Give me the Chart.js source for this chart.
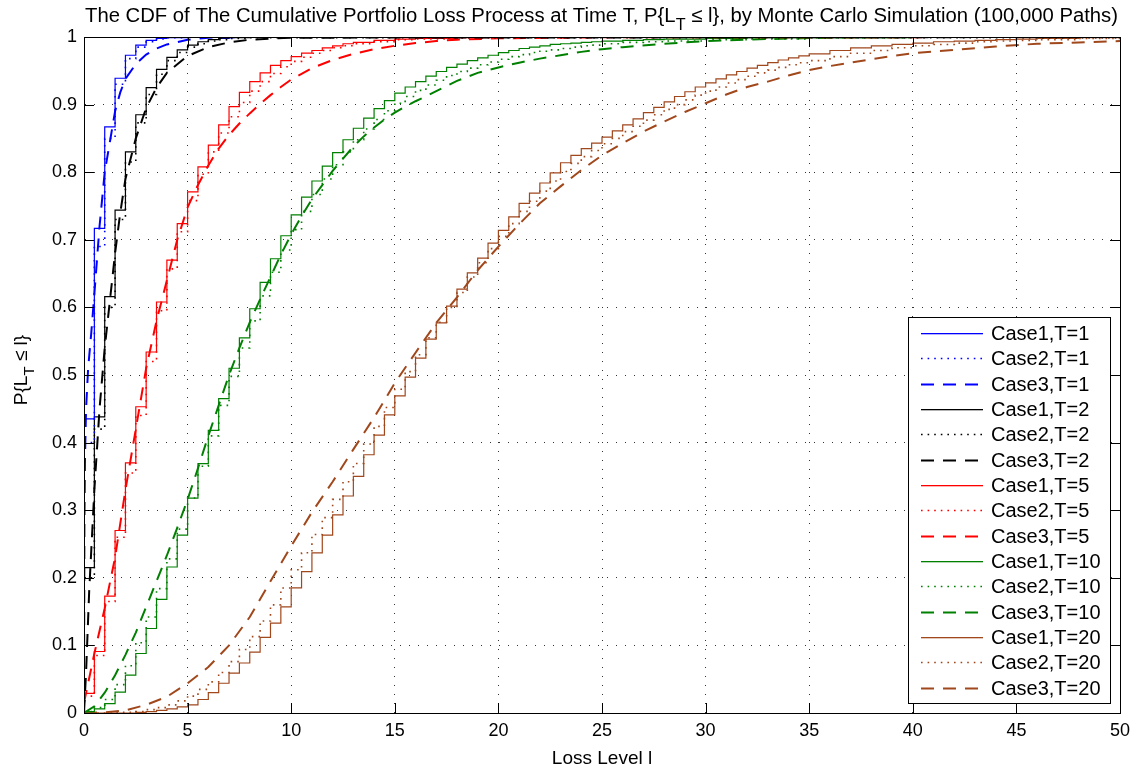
<!DOCTYPE html>
<html>
<head>
<meta charset="utf-8">
<script src="https://cdn.jsdelivr.net/npm/chart.js@4.4.0/dist/chart.umd.min.js"></script>
<style>
    body { margin: 0; background: #fff; }
    #wrap { width: 1138px; height: 771px; }
</style>
</head>
<body>
<div id="wrap"><canvas id="cdf" width="1138" height="771"></canvas></div>
<script>
// loss levels (x) and CDF values (y)
const stepLossT1 = [0, 0.5, 1, 1.5, 2, 2.5, 3, 3.5, 4, 5, 6, 50];
const case1T1 = [0.435, 0.717, 0.867, 0.939, 0.973, 0.988, 0.995, 0.998, 0.999, 1, 1, 1];
const case2T1 = [0.40, 0.69, 0.85, 0.93, 0.968, 0.985, 0.993, 0.997, 0.999, 1, 1, 1];
const smoothLossT1 = [0, 0.02, 0.05, 0.1, 0.2, 0.35, 0.5, 0.75, 1, 1.25, 1.5, 1.75, 2, 2.5, 3, 3.5, 4, 5, 6, 8, 50];
const case3T1 = [0, 0.28, 0.38, 0.45, 0.51, 0.562, 0.62, 0.72, 0.8, 0.845, 0.89, 0.918, 0.938, 0.96, 0.974, 0.983, 0.989, 0.996, 0.999, 1, 1];

const stepLossT2 = [0, 0.5, 1, 1.5, 2, 2.5, 3, 3.5, 4, 4.5, 5, 5.5, 6, 6.5, 7, 8, 50];
const case1T2 = [0.215, 0.438, 0.616, 0.744, 0.83, 0.885, 0.925, 0.952, 0.97, 0.981, 0.988, 0.993, 0.996, 0.998, 0.999, 1, 1];
const case2T2 = [0.2, 0.42, 0.6, 0.73, 0.815, 0.873, 0.915, 0.945, 0.965, 0.977, 0.985, 0.99, 0.994, 0.996, 0.998, 0.999, 1];
const smoothLossT2 = [0, 0.1, 0.25, 0.5, 0.75, 1, 1.25, 1.5, 1.75, 2, 2.5, 3, 3.5, 4, 5, 6, 7, 8, 10, 50];
const case3T2 = [0, 0.06, 0.18, 0.33, 0.45, 0.54, 0.61, 0.68, 0.74, 0.79, 0.85, 0.895, 0.925, 0.947, 0.972, 0.985, 0.992, 0.996, 0.999, 1];

const stepLossT5 = [0, 0.5, 1, 1.5, 2, 2.5, 3, 3.5, 4, 4.5, 5, 5.5, 6, 6.5, 7, 7.5, 8, 8.5, 9, 9.5,
    10, 10.5, 11, 11.5, 12, 12.5, 13, 14, 15, 16, 18, 20, 50];
const case1T5 = [0.029, 0.091, 0.173, 0.27, 0.37, 0.453, 0.534, 0.608, 0.67, 0.724,
    0.771, 0.808, 0.84, 0.87, 0.897, 0.918, 0.934, 0.947, 0.958, 0.965,
    0.971, 0.976, 0.98, 0.984, 0.987, 0.99, 0.992, 0.995, 0.997, 0.998, 0.999, 1, 1];
const case2T5 = [0.025, 0.085, 0.165, 0.26, 0.355, 0.44, 0.52, 0.595, 0.657, 0.712,
    0.758, 0.797, 0.83, 0.858, 0.882, 0.903, 0.92, 0.934, 0.946, 0.956,
    0.964, 0.97, 0.976, 0.98, 0.984, 0.987, 0.99, 0.993, 0.996, 0.997, 0.999, 1, 1];
const smoothLossT5 = [0, 0.5, 1, 1.5, 2, 2.5, 3, 3.5, 4, 4.5, 5, 5.5, 6, 6.5, 7, 7.5, 8, 8.5, 9, 9.5,
    10, 11, 12, 13, 14, 15, 16, 17, 18, 20, 25, 50];
const case3T5 = [0.015, 0.088, 0.155, 0.23, 0.33, 0.42, 0.51, 0.58, 0.64, 0.70,
    0.748, 0.781, 0.81, 0.835, 0.855, 0.872, 0.887, 0.901, 0.914, 0.926,
    0.937, 0.954, 0.966, 0.975, 0.982, 0.987, 0.991, 0.994, 0.996, 0.998, 0.9995, 1];

const stepLossT10 = [0, 0.5, 1, 1.5, 2, 2.5, 3, 3.5, 4, 4.5, 5, 5.5, 6, 6.5, 7, 7.5, 8, 8.5, 9, 9.5,
    10, 10.5, 11, 11.5, 12, 12.5, 13, 13.5, 14, 14.5, 15, 15.5, 16, 16.5, 17, 17.5, 18, 18.5, 19, 19.5,
    20, 20.5, 21, 21.5, 22, 22.5, 23, 23.5, 24, 24.5, 25, 26, 27, 28, 30, 32, 35, 40, 50];
const case1T10 = [0.002, 0.006, 0.014, 0.031, 0.056, 0.088, 0.125, 0.168, 0.216, 0.263,
    0.318, 0.369, 0.418, 0.465, 0.51, 0.555, 0.598, 0.637, 0.672, 0.706,
    0.737, 0.763, 0.787, 0.809, 0.829, 0.848, 0.865, 0.88, 0.894, 0.906,
    0.917, 0.926, 0.934, 0.942, 0.949, 0.955, 0.96, 0.965, 0.969, 0.973,
    0.977, 0.98, 0.983, 0.985, 0.987, 0.989, 0.99, 0.991, 0.992, 0.993,
    0.994, 0.995, 0.996, 0.997, 0.998, 0.999, 0.999, 1, 1];
const case2T10 = [0.002, 0.008, 0.02, 0.042, 0.07, 0.104, 0.142, 0.184, 0.228, 0.272,
    0.318, 0.365, 0.41, 0.455, 0.498, 0.54, 0.58, 0.617, 0.652, 0.685,
    0.715, 0.742, 0.767, 0.79, 0.811, 0.83, 0.848, 0.864, 0.878, 0.891,
    0.902, 0.912, 0.921, 0.929, 0.936, 0.943, 0.949, 0.954, 0.959, 0.963,
    0.967, 0.971, 0.974, 0.977, 0.979, 0.981, 0.983, 0.985, 0.987, 0.988,
    0.99, 0.992, 0.993, 0.994, 0.996, 0.997, 0.999, 1, 1];
const smoothLossT10 = [0, 0.5, 1, 1.5, 2, 2.5, 3, 3.5, 4, 4.5, 5, 5.5, 6, 6.5, 7, 7.5, 8, 8.5, 9, 9.5,
    10, 10.5, 11, 11.5, 12, 12.5, 13, 13.5, 14, 14.5, 15, 15.5, 16, 16.5, 17,
    18, 19, 20, 21, 22, 23, 24, 25, 26, 28, 30, 33, 36, 40, 50];
const case3T10 = [0, 0.01, 0.03, 0.056, 0.086, 0.119, 0.157, 0.195, 0.233, 0.274,
    0.316, 0.362, 0.41, 0.455, 0.5, 0.54, 0.578, 0.612, 0.645, 0.678,
    0.708, 0.735, 0.76, 0.781, 0.802, 0.82, 0.838, 0.853, 0.866, 0.878,
    0.888, 0.897, 0.905, 0.912, 0.92, 0.935, 0.947, 0.955, 0.962, 0.968,
    0.973, 0.978, 0.982, 0.985, 0.99, 0.994, 0.997, 0.999, 1, 1];

const stepLossT20 = [0, 0.5, 1, 1.5, 2, 2.5, 3, 3.5, 4, 4.5, 5, 5.5, 6, 6.5, 7, 7.5, 8, 8.5, 9, 9.5,
    10, 10.5, 11, 11.5, 12, 12.5, 13, 13.5, 14, 14.5, 15, 15.5, 16, 16.5, 17, 17.5, 18, 18.5, 19, 19.5,
    20, 20.5, 21, 21.5, 22, 22.5, 23, 23.5, 24, 24.5, 25, 25.5, 26, 26.5, 27, 27.5, 28, 28.5, 29, 29.5,
    30, 30.5, 31, 31.5, 32, 32.5, 33, 33.5, 34, 34.5, 35,
    36, 37, 38, 39, 40, 41, 42, 43, 44, 45, 46, 48, 50];
const case1T20 = [0, 0, 0, 0, 0, 0.001, 0.002, 0.004, 0.006, 0.009,
    0.012, 0.02, 0.03, 0.044, 0.059, 0.074, 0.09, 0.112, 0.133, 0.157,
    0.185, 0.209, 0.237, 0.263, 0.293, 0.321, 0.35, 0.382, 0.411, 0.441,
    0.469, 0.497, 0.525, 0.553, 0.577, 0.602, 0.627, 0.651, 0.673, 0.695,
    0.714, 0.734, 0.754, 0.769, 0.784, 0.799, 0.814, 0.825, 0.835, 0.843,
    0.852, 0.861, 0.87, 0.879, 0.888, 0.896, 0.904, 0.912, 0.919, 0.926,
    0.932, 0.938, 0.944, 0.949, 0.954, 0.958, 0.962, 0.966, 0.969, 0.972,
    0.975,
    0.98, 0.984, 0.987, 0.989, 0.991, 0.993, 0.994, 0.995, 0.996, 0.997, 0.998, 0.999, 0.999];
const case2T20 = [0, 0, 0, 0.001, 0.001, 0.002, 0.005, 0.008, 0.012, 0.018,
    0.025, 0.035, 0.046, 0.06, 0.076, 0.094, 0.113, 0.136, 0.16, 0.185,
    0.212, 0.237, 0.264, 0.289, 0.316, 0.342, 0.369, 0.398, 0.424, 0.452,
    0.479, 0.505, 0.53, 0.555, 0.578, 0.6, 0.622, 0.645, 0.666, 0.687,
    0.705, 0.724, 0.742, 0.757, 0.772, 0.787, 0.801, 0.813, 0.823, 0.832,
    0.842, 0.85, 0.86, 0.868, 0.877, 0.885, 0.893, 0.9, 0.907, 0.914,
    0.92, 0.926, 0.932, 0.937, 0.942, 0.947, 0.951, 0.955, 0.959, 0.962,
    0.965,
    0.971, 0.976, 0.98, 0.984, 0.987, 0.989, 0.991, 0.993, 0.994, 0.995, 0.996, 0.998, 0.998];
const smoothLossT20 = [0, 1, 2, 3, 4, 5, 6, 7, 8, 9, 10, 11, 12, 13, 14, 15, 16, 17, 18, 19,
    20, 21, 22, 23, 24, 25, 26, 27, 28, 29, 30, 31, 32, 33, 34, 35, 36, 37, 38, 39,
    40, 42, 44, 46, 48, 50];
const case3T20 = [0, 0.001, 0.004, 0.012, 0.024, 0.044, 0.068, 0.1, 0.142, 0.195,
    0.247, 0.297, 0.342, 0.39, 0.437, 0.488, 0.533, 0.577, 0.615, 0.655,
    0.69, 0.723, 0.754, 0.779, 0.803, 0.825, 0.843, 0.86, 0.875, 0.889,
    0.902, 0.915, 0.926, 0.934, 0.943, 0.951, 0.957, 0.962, 0.967, 0.972,
    0.976, 0.981, 0.986, 0.99, 0.992, 0.994];

const horizons = ["1", "2", "5", "10", "20"];
const horizonColors = ["#0000ff", "#000000", "#ff0000", "#008000", "#a0471c"];

const FONT = '"Liberation Sans", Arial, Helvetica, sans-serif';

function pts(xs, ys) {
    return xs.map((x, i) => ({x: x, y: ys[i]}));
}

// solid = Case1 stairs, dotted = Case2 stairs, dashed = Case3 curve
const CASE_STYLE = [
    {width: 1.2, dash: [], stepped: true},
    {width: 1.6, dash: [1.6, 5], stepped: true},
    {width: 2, dash: [13, 9], stepped: false},
];

const seriesByHorizon = [
    [[stepLossT1, case1T1], [stepLossT1, case2T1], [smoothLossT1, case3T1]],
    [[stepLossT2, case1T2], [stepLossT2, case2T2], [smoothLossT2, case3T2]],
    [[stepLossT5, case1T5], [stepLossT5, case2T5], [smoothLossT5, case3T5]],
    [[stepLossT10, case1T10], [stepLossT10, case2T10], [smoothLossT10, case3T10]],
    [[stepLossT20, case1T20], [stepLossT20, case2T20], [smoothLossT20, case3T20]],
];

let datasets = [];
let legendItems = [];
seriesByHorizon.forEach(function (group, h) {
    group.forEach(function (s, c) {
        let st = CASE_STYLE[c];
        let label = "Case" + (c + 1) + ",T=" + horizons[h];
        legendItems.push({label: label, color: horizonColors[h], style: st});
        datasets.push({
            label: label,
            data: pts(s[0], s[1]),
            borderColor: horizonColors[h],
            backgroundColor: horizonColors[h],
            borderWidth: st.width,
            borderDash: st.dash,
            stepped: st.stepped,
            pointRadius: 0,
            tension: 0,
            fill: false,
        });
    });
});

// text with a subscript run, optionally squeezed to a target width
function drawRuns(ctx, runs, size, targetWidth) {
    let main = size + "px " + FONT;
    let sub = Math.round(size * 0.78) + "px " + FONT;
    let w = 0;
    runs.forEach(function (r) {
        ctx.font = r[1] ? sub : main;
        w += ctx.measureText(r[0]).width;
    });
    let sx = targetWidth ? targetWidth / w : 1;
    ctx.save();
    ctx.scale(sx, 1);
    let cx = -w / 2;
    ctx.textAlign = "left";
    ctx.textBaseline = "alphabetic";
    runs.forEach(function (r) {
        ctx.font = r[1] ? sub : main;
        ctx.fillText(r[0], cx, r[1] ? size * 0.38 : 0);
        cx += ctx.measureText(r[0]).width;
    });
    ctx.restore();
}

const matlabFrame = {
    id: "matlabFrame",
    afterDatasetsDraw(chart) {
        const ctx = chart.ctx;
        const a = chart.chartArea;
        const xs = chart.scales.x, ys = chart.scales.y;
        ctx.save();
        ctx.strokeStyle = "#000";
        ctx.lineWidth = 1;
        ctx.setLineDash([]);
        ctx.beginPath();
        xs.ticks.forEach(function (t) {
            let px = Math.round(xs.getPixelForValue(t.value)) + 0.5;
            ctx.moveTo(px, a.bottom);
            ctx.lineTo(px, a.bottom - 10);
            ctx.moveTo(px, a.top);
            ctx.lineTo(px, a.top + 10);
        });
        ys.ticks.forEach(function (t) {
            let py = Math.round(ys.getPixelForValue(t.value)) + 0.5;
            ctx.moveTo(a.left, py);
            ctx.lineTo(a.left + 10, py);
            ctx.moveTo(a.right, py);
            ctx.lineTo(a.right - 10, py);
        });
        ctx.stroke();
        ctx.strokeRect(Math.round(a.left) + 0.5, Math.round(a.top) + 0.5,
            Math.round(a.right - a.left), Math.round(a.bottom - a.top));

        // legend box, bottom right inside the axes
        const lx = 908, ly = 317, lw = 202, lh = 386;
        ctx.fillStyle = "#fff";
        ctx.fillRect(lx, ly, lw, lh);
        ctx.strokeStyle = "#000";
        ctx.strokeRect(lx + 0.5, ly + 0.5, lw, lh);
        legendItems.forEach(function (item, i) {
            let y = Math.round(ly + 16 + i * 25.33);
            if (item.style.dash.length === 0) {
                ctx.fillStyle = item.color;
                ctx.fillRect(921, y, 62, 1.3);
            } else {
                ctx.beginPath();
                ctx.strokeStyle = item.color;
                ctx.lineWidth = item.style.width;
                ctx.setLineDash(item.style.dash);
                ctx.moveTo(921, y + 0.5);
                ctx.lineTo(983, y + 0.5);
                ctx.stroke();
                ctx.setLineDash([]);
            }
            ctx.fillStyle = "#000";
            ctx.font = "20px " + FONT;
            ctx.textAlign = "left";
            ctx.textBaseline = "middle";
            ctx.fillText(item.label, 991, y + 1.5);
        });
        ctx.restore();
    },
    afterDraw(chart) {
        const ctx = chart.ctx;
        ctx.save();
        ctx.fillStyle = "#000";
        ctx.translate(601.5, 22);
        drawRuns(ctx, [
            ["The CDF of The Cumulative Portfolio Loss Process at Time T, P{L", false],
            ["T", true],
            [" \u2264 l}, by Monte Carlo Simulation (100,000 Paths)", false],
        ], 20, 1033);
        ctx.restore();

        ctx.save();
        ctx.fillStyle = "#000";
        ctx.translate(602, 764);
        drawRuns(ctx, [["Loss Level l", false]], 19, 0);
        ctx.restore();

        ctx.save();
        ctx.fillStyle = "#000";
        ctx.translate(27, 370);
        ctx.rotate(-Math.PI / 2);
        drawRuns(ctx, [["P{L", false], ["T", true], [" \u2264 l}", false]], 19, 0);
        ctx.restore();
    }
};

new Chart(document.getElementById("cdf"), {
    type: "line",
    data: {datasets: datasets},
    options: {
        responsive: false,
        animation: false,
        events: [],
        layout: {padding: {top: 37, right: 18, left: 0, bottom: 0}},
        plugins: {
            legend: {display: false},
            title: {display: false},
            tooltip: {enabled: false},
        },
        scales: {
            x: {
                type: "linear",
                min: 0,
                max: 50,
                afterFit: function (scale) { scale.height = 58; },
                ticks: {
                    stepSize: 5,
                    color: "#000",
                    padding: 7,
                    maxRotation: 0,
                    font: {family: FONT, size: 18},
                },
                grid: {color: "#333", lineWidth: 1, drawTicks: false},
                border: {display: true, color: "#000", width: 1, dash: [1, 8]},
            },
            y: {
                type: "linear",
                min: 0,
                max: 1,
                afterFit: function (scale) { scale.width = 84; },
                ticks: {
                    stepSize: 0.1,
                    color: "#000",
                    padding: 7,
                    font: {family: FONT, size: 18},
                    callback: function (v) {
                        return (v === 0 || v === 1) ? String(v) : v.toFixed(1);
                    },
                },
                grid: {color: "#333", lineWidth: 1, drawTicks: false},
                border: {display: true, color: "#000", width: 1, dash: [1, 8]},
            },
        },
    },
    plugins: [matlabFrame],
});
</script>
</body>
</html>
